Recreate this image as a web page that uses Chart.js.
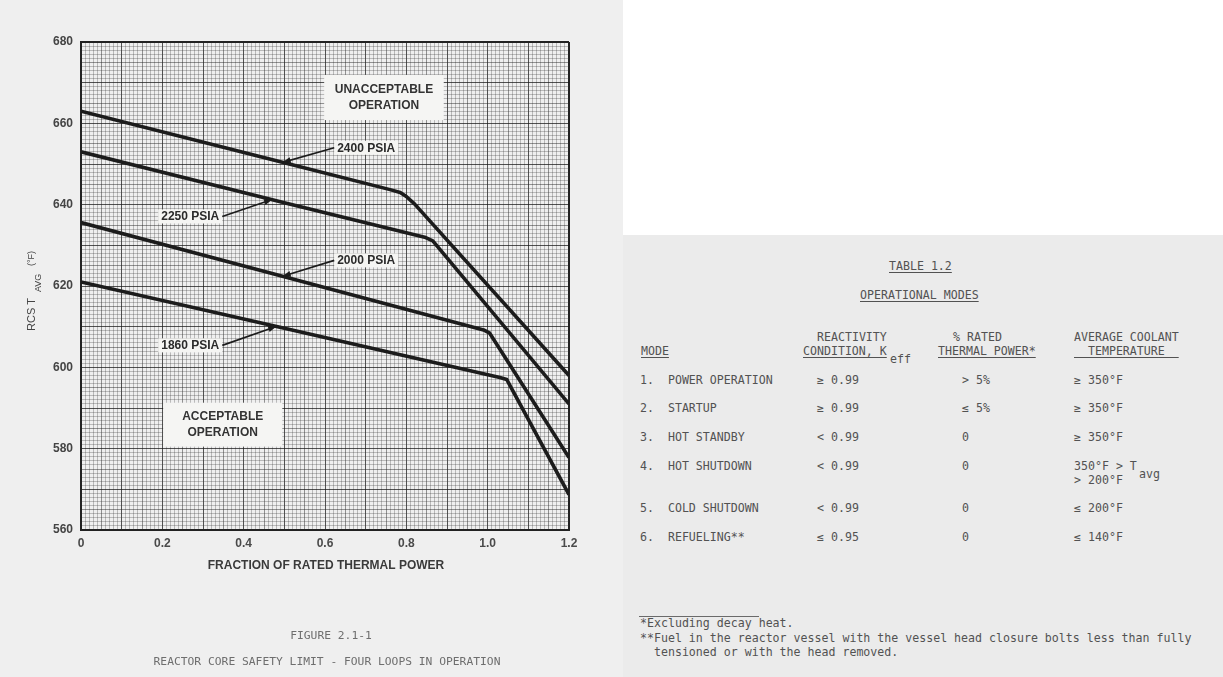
<!DOCTYPE html>
<html>
<head>
<meta charset="utf-8">
<script src="https://cdn.jsdelivr.net/npm/chart.js@4.4.1/dist/chart.umd.min.js"></script>
<style>
  html, body { margin: 0; padding: 0; width: 1223px; height: 677px; overflow: hidden; background: #ffffff; }
  #left { position: absolute; left: 0; top: 0; width: 623px; height: 677px; background: #efefef; }
  #right { position: absolute; left: 623px; top: 235px; width: 600px; height: 442px; background: #ebebeb; }
  canvas { position: absolute; left: 0; top: 0; }
  .cap { position: absolute; font-family: "DejaVu Sans Mono", monospace; font-size: 11.3px; line-height: 14px;
         color: #6e6e6e; white-space: pre; transform: translateX(-50%); }
  .t { position: absolute; font-family: "DejaVu Sans Mono", monospace; font-size: 11.6px; line-height: 14px;
       color: #525252; white-space: pre; }
  .u { text-decoration: underline; text-underline-offset: 2px; }
  .rule { position: absolute; height: 1px; background: #6a6a6a; }
</style>
</head>
<body>
<div id="left">
  <canvas id="chart" width="623" height="677"></canvas>
</div>
<div id="right"></div>
<div id="texts"></div>

<script>
// ---- Reactor core safety limit curves: fraction of rated thermal power vs RCS Tavg (°F)
const power2400 = [0, 0.50, 0.76, 0.785, 0.80, 0.82, 1.20];
const temp2400  = [663, 650.3, 643.7, 643.0, 642.0, 640.2, 598];
const power2250 = [0, 0.50, 0.845, 0.865, 0.88, 1.20];
const temp2250  = [653, 640.5, 632.0, 631.1, 629.3, 591];
const power2000 = [0, 0.50, 0.99, 1.005, 1.20];
const temp2000  = [635.6, 622.3, 609.2, 608.4, 577.8];
const power1860 = [0, 0.50, 1.03, 1.047, 1.20];
const temp1860  = [621, 609.6, 597.5, 597.0, 568.7];
const pressureNames = ['2400 PSIA', '2250 PSIA', '2000 PSIA', '1860 PSIA'];

const xTickValues = [0, 0.2, 0.4, 0.6, 0.8, 1.0, 1.2];
const xTickLabels = ['0', '0.2', '0.4', '0.6', '0.8', '1.0', '1.2'];
const yTickValues = [560, 580, 600, 620, 640, 660, 680];
const yTickLabels = ['560', '580', '600', '620', '640', '660', '680'];

// ---- Table 1.2 operational modes
const modeNames   = ['POWER OPERATION', 'STARTUP', 'HOT STANDBY', 'HOT SHUTDOWN', 'COLD SHUTDOWN', 'REFUELING**'];
const reactivity  = ['\u2265 0.99', '\u2265 0.99', '< 0.99', '< 0.99', '< 0.99', '\u2264 0.95'];
const ratedPower  = ['> 5%', '\u2264 5%', '0', '0', '0', '0'];
const coolantTemp = ['\u2265 350\u00B0F', '\u2265 350\u00B0F', '\u2265 350\u00B0F', '350\u00B0F > T', '\u2264 200\u00B0F', '\u2264 140\u00B0F'];

const curves = [
  [power2400, temp2400], [power2250, temp2250], [power2000, temp2000], [power1860, temp1860]
];

function toPoints(xs, ys) { return xs.map((v, i) => ({ x: v, y: ys[i] })); }
function tempAt(xs, ys, xv) {
  for (let i = 1; i < xs.length; i++) {
    if (xv <= xs[i]) {
      const f = (xv - xs[i - 1]) / (xs[i] - xs[i - 1]);
      return ys[i - 1] + f * (ys[i] - ys[i - 1]);
    }
  }
  return ys[ys.length - 1];
}

// label placement (data units) and where each arrow meets its curve
const labelSpots = [
  { side: 'right', x: 0.630, y: 654.0, tipX: 0.496 },
  { side: 'left',  x: 0.340, y: 637.1, tipX: 0.470 },
  { side: 'right', x: 0.630, y: 626.3, tipX: 0.496 },
  { side: 'left',  x: 0.340, y: 605.4, tipX: 0.480 }
];
const regionBoxes = [
  { lines: ['UNACCEPTABLE', 'OPERATION'], x0: 0.598, x1: 0.892, y0: 660.8, y1: 671.9 },
  { lines: ['ACCEPTABLE', 'OPERATION'],   x0: 0.202, x1: 0.495, y0: 580.5, y1: 591.3 }
];

const PAPER_LIGHT = '#f5f5f3';
const INK = '#1c1c1c';
const LABEL_FONT = 'bold 12px "Liberation Sans", Arial, sans-serif';

const annotations = {
  id: 'annotations',
  afterDatasetsDraw(chart) {
    const { ctx, scales: { x, y } } = chart;
    ctx.save();
    // region captions on light patches
    regionBoxes.forEach(b => {
      const L = x.getPixelForValue(b.x0), R = x.getPixelForValue(b.x1);
      const T = y.getPixelForValue(b.y1), B = y.getPixelForValue(b.y0);
      ctx.fillStyle = PAPER_LIGHT;
      ctx.fillRect(L, T, R - L, B - T);
      ctx.fillStyle = '#333';
      ctx.font = LABEL_FONT;
      ctx.textAlign = 'center';
      ctx.textBaseline = 'middle';
      const cx = (L + R) / 2, cy = (T + B) / 2;
      ctx.fillText(b.lines[0], cx, cy - 8);
      ctx.fillText(b.lines[1], cx, cy + 8);
    });
    // pressure labels with arrows pointing to their curves
    ctx.font = LABEL_FONT;
    labelSpots.forEach((s, i) => {
      const [xs, ts] = curves[i];
      const text = pressureNames[i];
      const w = ctx.measureText(text).width;
      const px = x.getPixelForValue(s.x), py = y.getPixelForValue(s.y);
      const left = s.side === 'right' ? px : px - w;
      ctx.fillStyle = PAPER_LIGHT;
      ctx.fillRect(left - 3, py - 7, w + 6, 14);
      ctx.fillStyle = '#2a2a2a';
      ctx.textAlign = 'left';
      ctx.textBaseline = 'middle';
      ctx.fillText(text, left, py + 0.5);
      const tailX = s.side === 'right' ? left - 3 : left + w + 3;
      const tipX = x.getPixelForValue(s.tipX);
      const tipY = y.getPixelForValue(tempAt(xs, ts, s.tipX));
      ctx.strokeStyle = INK;
      ctx.lineWidth = 1.6;
      ctx.beginPath();
      ctx.moveTo(tailX, py);
      ctx.lineTo(tipX, tipY);
      ctx.stroke();
      const ang = Math.atan2(tipY - py, tipX - tailX);
      const len = 8, half = 3;
      ctx.fillStyle = INK;
      ctx.beginPath();
      ctx.moveTo(tipX, tipY);
      ctx.lineTo(tipX - len * Math.cos(ang) + half * Math.sin(ang), tipY - len * Math.sin(ang) - half * Math.cos(ang));
      ctx.lineTo(tipX - len * Math.cos(ang) - half * Math.sin(ang), tipY - len * Math.sin(ang) + half * Math.cos(ang));
      ctx.closePath();
      ctx.fill();
    });
    ctx.restore();
  },
  afterDraw(chart) {
    const { ctx, chartArea } = chart;
    ctx.save();
    // x-axis title
    ctx.fillStyle = '#3a3a3a';
    ctx.font = LABEL_FONT;
    ctx.textAlign = 'center';
    ctx.textBaseline = 'middle';
    ctx.fillText('FRACTION OF RATED THERMAL POWER', (chartArea.left + chartArea.right) / 2 + 1, 566);
    // y-axis title, rotated, with subscript
    ctx.translate(32, 331);
    ctx.rotate(-Math.PI / 2);
    ctx.textAlign = 'left';
    ctx.fillStyle = '#444';
    ctx.font = '11px "Liberation Sans", Arial, sans-serif';
    ctx.fillText('RCS T', 0, 0);
    ctx.font = '9px "Liberation Sans", Arial, sans-serif';
    ctx.fillText('AVG', 39, 7);
    ctx.fillText('(\u00B0F)', 65, 0);
    ctx.restore();
  }
};

function gridStyle(k, edge) {
  if (edge) return { c: '#222222', w: 2 };
  if (k % 10 === 0) return { c: 'rgba(25,25,25,0.74)', w: 1 };
  if (k % 5 === 0) return { c: 'rgba(40,40,40,0.48)', w: 1 };
  return { c: 'rgba(60,60,60,0.30)', w: 1 };
}

new Chart(document.getElementById('chart'), {
  type: 'scatter',
  data: {
    datasets: curves.map(([xs, ts], i) => ({
      label: pressureNames[i],
      data: toPoints(xs, ts),
      showLine: true,
      borderColor: INK,
      borderWidth: 3.6,
      pointRadius: 0,
      tension: 0,
      borderJoinStyle: 'round',
      borderCapStyle: 'butt'
    }))
  },
  options: {
    responsive: false,
    animation: false,
    devicePixelRatio: 1,
    layout: { padding: { left: 0, top: 42, right: 54, bottom: 0 } },
    plugins: { legend: { display: false }, tooltip: { enabled: false } },
    scales: {
      x: {
        type: 'linear', min: 0, max: 1.2,
        afterFit: s => { s.height = 147; },
        border: { display: true, color: '#222', width: 2 },
        grid: {
          drawTicks: false,
          color: c => gridStyle(Math.round(c.tick.value * 100), Math.round(c.tick.value * 100) === 120).c,
          lineWidth: c => gridStyle(Math.round(c.tick.value * 100), Math.round(c.tick.value * 100) === 120).w
        },
        ticks: {
          stepSize: 0.01, autoSkip: false, maxRotation: 0, padding: 6,
          color: '#4a4a4a', font: { family: '"Liberation Sans", Arial, sans-serif', size: 12, weight: 'bold' },
          callback: v => {
            const i = xTickValues.findIndex(t => Math.abs(t - v) < 1e-6);
            return i >= 0 ? xTickLabels[i] : '';
          }
        }
      },
      y: {
        type: 'linear', min: 560, max: 680,
        afterFit: s => { s.width = 81; },
        border: { display: true, color: '#222', width: 2 },
        grid: {
          drawTicks: false,
          color: c => gridStyle(Math.round(c.tick.value), Math.round(c.tick.value) === 680).c,
          lineWidth: c => gridStyle(Math.round(c.tick.value), Math.round(c.tick.value) === 680).w
        },
        ticks: {
          stepSize: 1, autoSkip: false, padding: 8,
          color: '#444', font: { family: '"Liberation Sans", Arial, sans-serif', size: 12, weight: 'bold' },
          callback: v => {
            const i = yTickValues.findIndex(t => Math.abs(t - v) < 1e-6);
            return i >= 0 ? yTickLabels[i] : '';
          }
        }
      }
    }
  },
  plugins: [annotations]
});

// ---- captions and table as page text
const texts = document.getElementById('texts');
function put(cls, txt, left, cy, extra) {
  const d = document.createElement('div');
  d.className = cls;
  d.textContent = txt;
  d.style.left = left + 'px';
  d.style.top = (cy - 7) + 'px';
  if (extra) Object.assign(d.style, extra);
  texts.appendChild(d);
  return d;
}
put('cap', 'FIGURE 2.1-1', 331, 636);
put('cap', 'REACTOR CORE SAFETY LIMIT - FOUR LOOPS IN OPERATION', 327, 662);

put('t u', 'TABLE 1.2', 889, 266);
put('t u', 'OPERATIONAL MODES', 860, 295);
put('t u', 'MODE', 641, 351);
put('t', 'REACTIVITY', 817, 337);
put('t u', 'CONDITION, K', 803, 351);
put('t', 'eff', 890, 359);
put('t', '% RATED', 953, 337);
put('t u', 'THERMAL POWER*', 938, 351);
put('t', 'AVERAGE COOLANT', 1074, 337);
put('t u', '  TEMPERATURE  ', 1074, 351);

const rowY = [380, 408, 437, 466, 508, 537];
modeNames.forEach((m, i) => {
  put('t', (i + 1) + '.  ' + m, 640, rowY[i]);
  put('t', reactivity[i], 817, rowY[i]);
  put('t', ratedPower[i], 962, rowY[i]);
  put('t', coolantTemp[i], 1074, rowY[i]);
});
put('t', '> 200\u00B0F', 1074, 480);
put('t', 'avg', 1139, 474);

const rule = document.createElement('div');
rule.className = 'rule';
Object.assign(rule.style, { left: '639px', top: '616px', width: '120px' });
texts.appendChild(rule);
put('t', '*Excluding decay heat.', 640, 623);
put('t', '**Fuel in the reactor vessel with the vessel head closure bolts less than fully', 640, 638);
put('t', '  tensioned or with the head removed.', 640, 652);
</script>
</body>
</html>
